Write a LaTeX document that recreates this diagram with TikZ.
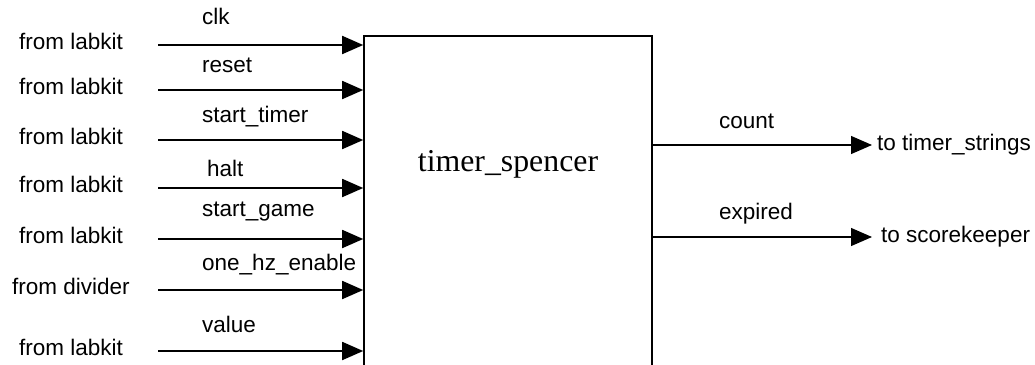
\documentclass[tikz,border=0pt]{standalone}
\usepackage{fontspec}
\setmainfont{Liberation Sans}
\newfontfamily\blockfont{Liberation Serif}
\usetikzlibrary{positioning,arrows.meta}

\tikzset{
  src/.style={inner sep=0pt, yshift=4pt, font=\fontsize{22.5}{27}\selectfont},
  dst/.style={inner sep=0pt, font=\fontsize{22.5}{27}\selectfont},
  sig/.style={inner sep=0pt, text depth=0pt, font=\fontsize{22.5}{27}\selectfont},
  title/.style={inner sep=0pt, font=\blockfont\fontsize{31.8}{38}\selectfont},
  block/.style={draw, line width=1.6pt, minimum width=288pt, minimum height=344pt},
  inwire/.style={line width=1.8pt, -{Triangle[length=21pt,width=18pt]}},
  outwire/.style={line width=1.2pt, -{Triangle[length=21pt,width=18pt]}}
}

\begin{document}
\begin{tikzpicture}[x=1pt,y=1pt]

    \useasboundingbox (0,0) rectangle (1035,-364);

      \node (Timer) [block] at (508,-208) {};
      \node (Name) [title] at ([yshift=-129pt]Timer.north) {timer\_spencer};

      %% input pins, one row per signal
      \node (S1) [coordinate] at (158,-45) {};
      \node (S2) [coordinate, below of=S1, node distance=45pt] {};
      \node (S3) [coordinate, below of=S2, node distance=50pt] {};
      \node (S4) [coordinate, below of=S3, node distance=48pt] {};
      \node (S5) [coordinate, below of=S4, node distance=51pt] {};
      \node (S6) [coordinate, below of=S5, node distance=51pt] {};
      \node (S7) [coordinate, below of=S6, node distance=61pt] {};

      \node (F1) [src, left of=S1, node distance=87pt] {from labkit};
      \node (F2) [src, left of=S2, node distance=87pt] {from labkit};
      \node (F3) [src, left of=S3, node distance=87pt] {from labkit};
      \node (F4) [src, left of=S4, node distance=87pt] {from labkit};
      \node (F5) [src, left of=S5, node distance=87pt] {from labkit};
      \node (F6) [src, left of=S6, node distance=87pt] {from divider};
      \node (F7) [src, left of=S7, node distance=87pt] {from labkit};

      \node (CLK) [sig, above right=20pt and 44pt of S1] {clk};
      \node (RESET) [sig, above right=17pt and 44pt of S2] {reset};
      \node (START) [sig, above right=17pt and 44pt of S3] {start\_timer};
      \node (HALT) [sig, above right=11pt and 49pt of S4] {halt};
      \node (GAME) [sig, above right=22pt and 44pt of S5] {start\_game};
      \node (ONEHZ) [sig, above right=19pt and 44pt of S6] {one\_hz\_enable};
      \node (VALUE) [sig, above right=18pt and 44pt of S7] {value};

      \draw[inwire] (S1) -- (Timer.west |- S1);
      \draw[inwire] (S2) -- (Timer.west |- S2);
      \draw[inwire] (S3) -- (Timer.west |- S3);
      \draw[inwire] (S4) -- (Timer.west |- S4);
      \draw[inwire] (S5) -- (Timer.west |- S5);
      \draw[inwire] (S6) -- (Timer.west |- S6);
      \draw[inwire] (S7) -- (Timer.west |- S7);

      %% outputs
      \node (O1) [coordinate] at (872,-145) {};
      \node (O2) [coordinate, below of=O1, node distance=92pt] {};
      \node (P1) [coordinate] at (Timer.east |- O1) {};
      \node (P2) [coordinate] at (Timer.east |- O2) {};

      \draw[outwire] (P1) -- (O1);
      \draw[outwire] (P2) -- (O2);

      \node (COUNT) [sig, above right=16pt and 66pt of P1] {count};
      \node (EXPIRED) [sig, above right=17pt and 66pt of P2] {expired};

      \node (TS) [dst, right=5pt of O1] {to timer\_strings};
      \node (SK) [dst, right=9pt of O2] {to scorekeeper};

\end{tikzpicture}
\end{document}
